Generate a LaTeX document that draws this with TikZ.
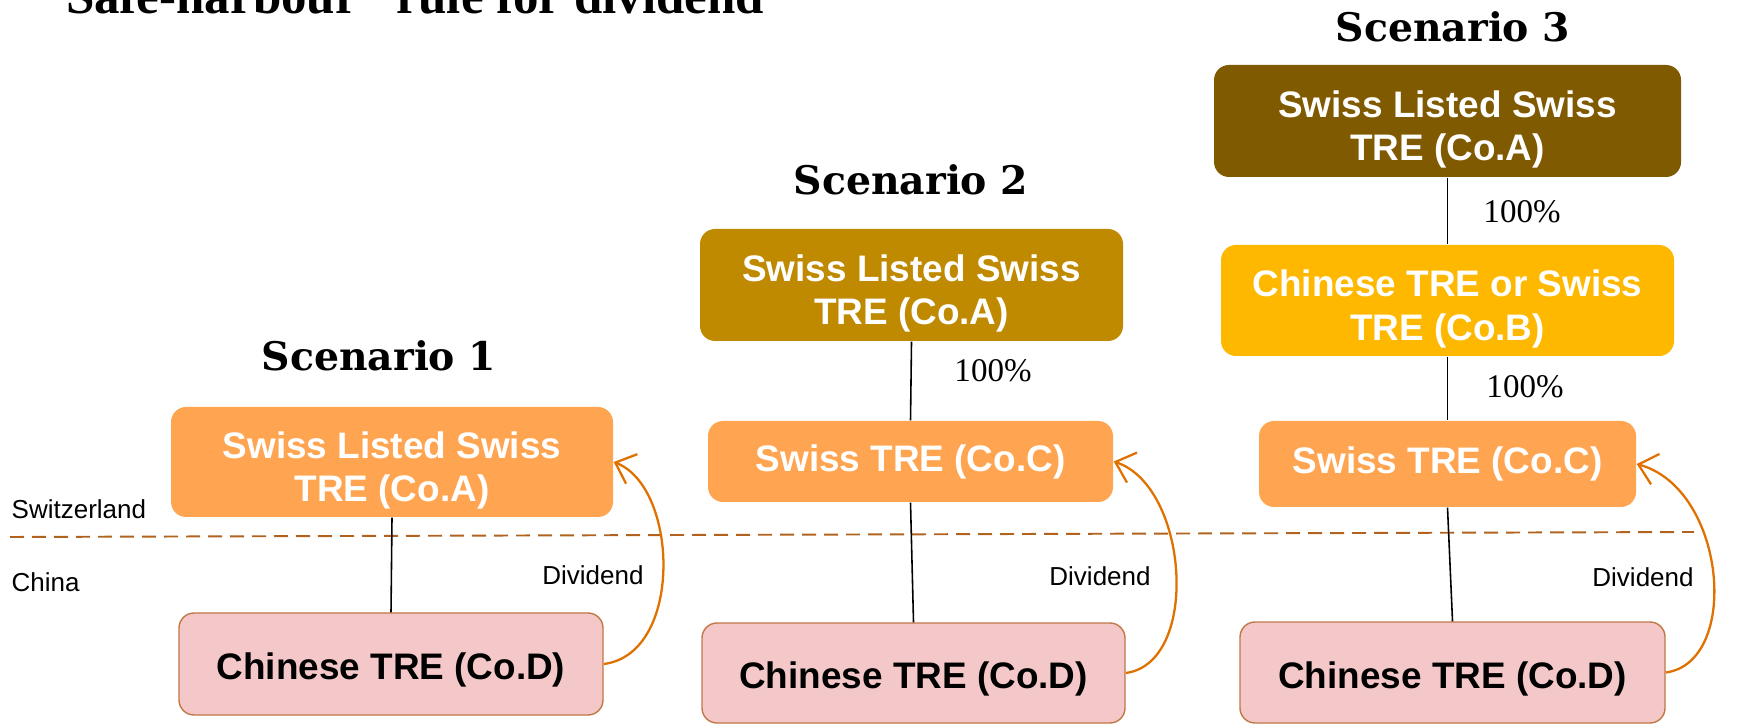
\documentclass[tikz,border=0pt]{standalone}
\usepackage{fontspec}
\setmainfont{Liberation Serif}
\newfontfamily\arialfont{Liberation Sans}
\newfontfamily\scenfont{DejaVu Serif}
\usetikzlibrary{arrows.meta}

\definecolor{orangebox}{HTML}{FFA552}
\definecolor{goldbox}{HTML}{BF8A00}
\definecolor{brownbox}{HTML}{7F5A00}
\definecolor{yellowbox}{HTML}{FFB800}
\definecolor{pinkbox}{HTML}{F4C8C8}
\definecolor{pinkedge}{HTML}{C07848}
\definecolor{borderline}{HTML}{B0621E}
\definecolor{divcolor}{HTML}{E07000}

% invisible strut that pads the first line of a box from above
\newcommand\padtop[1]{\rule{0pt}{#1}}

\begin{document}
\begin{tikzpicture}[x=0.1mm,y=-0.1mm,
  cobox/.style={rounded corners=1.5mm, inner sep=0pt, align=center, text=white,
    font=\arialfont\bfseries\fontsize{10.5}{12.4}\selectfont},
  pinknode/.style={cobox, fill=pinkbox, draw=pinkedge, line width=0.4pt, text=black},
  ownline/.style={black, line width=0.45pt},
  borderdash/.style={draw=borderline, line width=0.55pt, dash pattern=on 1.4mm off 0.8mm},
  divflow/.style={draw=divcolor, line width=0.65pt, -{Straight Barb[length=5pt,width=9pt]}},
  pctlabel/.style={font=\fontsize{9.4}{11}\selectfont, inner sep=0pt},
  scenlabel/.style={font=\scenfont\bfseries\fontsize{11.2}{13}\selectfont, inner sep=0pt},
  sidelabel/.style={font=\arialfont\fontsize{7.4}{9}\selectfont, inner sep=0pt}]

\useasboundingbox (0,0) rectangle (1746,725);

% heading, partly above the page edge
\node[anchor=base west, font=\bfseries\fontsize{14.5}{16}\selectfont, inner sep=0pt]
  (title) at (40,14) {“Safe-harbour” rule for dividend};

% border between the two jurisdictions
\coordinate (bl) at (10,537);
\coordinate (br) at (1694,532);
\draw[borderdash] (bl) -- (br);
\node[sidelabel, anchor=west] (swiss) at (11,509) {Switzerland};
\node[sidelabel, anchor=west] (china) at (11,582) {China};

% scenario headings
\node[scenlabel] (s1) at (379,356) {Scenario 1};
\node[scenlabel] (s2) at (911,180) {Scenario 2};
\node[scenlabel] (s3) at (1453,27) {Scenario 3};

% scenario 1
\node[cobox, fill=orangebox, minimum width=44.2mm, minimum height=11.0mm]
  (a1) at (392,462) {\padtop{12.4pt}Swiss Listed Swiss\\TRE (Co.A)};
\node[pinknode, minimum width=42.4mm, minimum height=10.2mm]
  (d1) at (391,664) {\padtop{11.1pt}Chinese TRE (Co.D)};

% scenario 2
\node[cobox, fill=goldbox, minimum width=42.3mm, minimum height=11.2mm]
  (a2) at (911.5,285) {\padtop{12.4pt}Swiss Listed Swiss\\TRE (Co.A)};
\node[cobox, fill=orangebox, minimum width=40.5mm, minimum height=8.1mm]
  (c2) at (910.5,461.5) {Swiss TRE (Co.C)};
\node[pinknode, minimum width=42.3mm, minimum height=10.0mm]
  (d2) at (913.5,673) {\padtop{11.1pt}Chinese TRE (Co.D)};

% scenario 3
\node[cobox, fill=brownbox, minimum width=46.7mm, minimum height=11.2mm]
  (a3) at (1447.5,121) {\padtop{12.4pt}Swiss Listed Swiss\\TRE (Co.A)};
\node[cobox, fill=yellowbox, minimum width=45.3mm, minimum height=11.1mm]
  (b3) at (1447.5,300.5) {\padtop{12.4pt}Chinese TRE or Swiss\\TRE (Co.B)};
\node[cobox, fill=orangebox, minimum width=37.7mm, minimum height=8.6mm]
  (c3) at (1447.5,464) {Swiss TRE (Co.C)};
\node[pinknode, minimum width=42.5mm, minimum height=10.1mm]
  (d3) at (1452.5,672.5) {\padtop{11.1pt}Chinese TRE (Co.D)};

% ownership lines
\draw[ownline] (a1.south) -- (d1.north);
\draw[ownline] (a2.south) -- (c2.north);
\draw[ownline] (c2.south) -- (d2.north);
\draw[ownline] (a3.south) -- (b3.north);
\draw[ownline] (b3.south) -- (c3.north);
\draw[ownline] (c3.south) -- (d3.north);

\node[pctlabel] (p2) at (993,371) {100\%};
\node[pctlabel] (p3a) at (1522,212) {100\%};
\node[pctlabel] (p3b) at (1525,387) {100\%};

% dividend flows
\draw[divflow] (d1.east) .. controls +(80,-10) and +(65,25) .. (a1.east);
\draw[divflow] (d2.east) .. controls +(75,-10) and +(75,25) .. (c2.east);
\draw[divflow] (d3.east) .. controls +(75,-10) and +(90,25) .. (c3.east);

\node[sidelabel] (dv1) at (593,575) {Dividend};
\node[sidelabel] (dv2) at (1100,576) {Dividend};
\node[sidelabel] (dv3) at (1643,577) {Dividend};

\end{tikzpicture}
\end{document}
